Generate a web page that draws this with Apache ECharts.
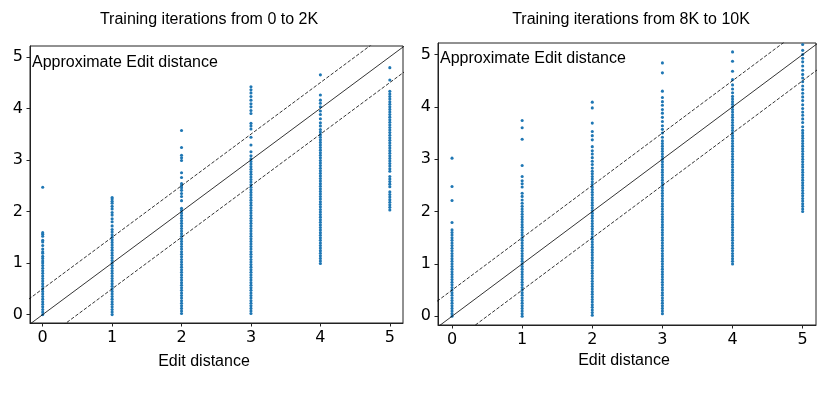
<!DOCTYPE html>
<html>
<head>
<meta charset="utf-8">
<script src="https://cdn.jsdelivr.net/npm/echarts@6/dist/echarts.min.js"></script>
<style>
	html, body { margin: 0; padding: 0; background: #fff; }
	#main { width: 830px; height: 401px; }
</style>
</head>
<body>
<div id="main"></div>
<script>
// x positions of the columns (edit distance)
var xTicks = [0, 1, 2, 3, 4, 5];
var yTicks = [0, 1, 2, 3, 4, 5];

// approximate edit distance values per column, iterations 0 to 2K
var left0 = [0.00,0.05,0.10,0.15,0.20,0.25,0.30,0.35,0.40,0.45,0.50,0.55,0.60,0.65,0.70,0.75,0.80,0.85,0.90,0.95,1.00,1.04,
	1.09,1.13,1.19,1.22,1.27,1.34,1.41,1.44,1.52,1.56,1.59,2.47];
var left1 = [0.00,0.05,0.10,0.15,0.20,0.25,0.30,0.35,0.40,0.45,0.50,0.55,0.60,0.65,0.70,0.75,0.80,0.85,0.90,0.95,
	1.00,1.05,1.10,1.15,1.20,1.25,1.30,1.35,1.40,1.45,1.50,1.55,1.60,
	1.65,1.72,1.80,1.86,1.93,1.98,2.05,2.10,2.16,2.20,2.24,2.27];
var left2 = [0.02,0.07,0.12,0.17,0.22,0.27,0.32,0.37,0.42,0.47,0.52,0.57,0.62,0.67,0.72,0.77,0.82,0.87,0.92,0.97,
	1.02,1.07,1.12,1.17,1.22,1.27,1.32,1.37,1.42,1.47,1.52,1.57,1.62,1.67,1.72,1.77,1.82,1.87,1.92,1.97,2.02,2.06,
	2.21,2.29,2.35,2.41,2.46,2.50,2.54,2.66,2.75,2.99,3.04,3.09,3.24,3.57];
var left3 = [0.02,0.07,0.12,0.17,0.22,0.27,0.32,0.37,0.42,0.47,0.52,0.57,0.62,0.67,0.72,0.77,0.82,0.87,0.92,0.97,
	1.02,1.07,1.12,1.17,1.22,1.27,1.32,1.37,1.42,1.47,1.52,1.57,1.62,1.67,1.72,1.77,1.82,1.87,1.92,1.97,
	2.02,2.07,2.12,2.17,2.22,2.27,2.32,2.37,2.42,2.47,2.52,2.57,2.62,2.67,2.72,2.77,2.82,2.87,2.92,2.97,3.02,
	3.08,3.16,3.29,3.44,3.60,3.66,3.71,3.90,3.96,4.03,4.09,4.16,4.23,4.30,4.36,4.42];
var left4 = [0.99,1.04,1.09,1.14,1.19,1.24,1.29,1.34,1.39,1.44,1.49,1.54,1.59,1.64,1.69,1.74,1.79,1.84,1.89,1.94,
	1.99,2.04,2.09,2.14,2.19,2.24,2.29,2.34,2.39,2.44,2.49,2.54,2.59,2.64,2.69,2.74,2.79,2.84,2.89,2.94,
	2.99,3.04,3.09,3.14,3.19,3.24,3.29,3.34,3.39,3.44,3.49,3.54,3.59,
	3.66,3.72,3.80,3.88,3.95,4.03,4.10,4.16,4.26,4.65];
var left5 = [2.03,2.08,2.13,2.18,2.23,2.28,2.33,2.38,2.48,2.53,2.58,2.63,2.68,2.78,2.83,2.88,2.93,2.98,
	3.03,3.08,3.13,3.18,3.23,3.28,3.33,3.38,3.43,3.48,3.53,3.58,3.63,3.68,3.73,3.78,3.83,3.88,3.93,3.98,
	4.03,4.08,4.13,4.18,4.23,4.28,4.33,4.55,4.79];

// approximate edit distance values per column, iterations 8K to 10K
var right0 = [0.00,0.05,0.10,0.15,0.20,0.25,0.30,0.35,0.40,0.45,0.50,0.55,0.60,0.65,0.70,0.75,0.80,0.85,0.90,0.95,
	1.00,1.05,1.10,1.15,1.20,1.25,1.30,
	1.35,1.40,1.45,1.50,1.55,1.60,1.65,1.79,2.21,2.48,3.02];
var right1 = [0.00,0.05,0.10,0.15,0.20,0.25,0.30,0.35,0.40,0.45,0.50,0.55,0.60,0.65,0.70,0.75,0.80,0.85,0.90,0.95,
	1.00,1.05,1.10,1.15,1.20,1.25,1.30,1.35,1.40,1.45,1.50,1.55,1.60,1.65,1.70,1.75,1.80,1.85,1.90,1.95,2.00,2.05,2.10,
	2.16,2.22,2.29,2.35,2.47,2.53,2.59,2.67,2.88,3.38,3.60,3.74];
var right2 = [0.02,0.07,0.12,0.17,0.22,0.27,0.32,0.37,0.42,0.47,0.52,0.57,0.62,0.67,0.72,0.77,0.82,0.87,0.92,0.97,
	1.02,1.07,1.12,1.17,1.22,1.27,1.32,1.37,1.42,1.47,1.52,1.57,1.62,1.67,1.72,1.77,1.82,1.87,1.92,1.97,
	2.02,2.07,2.12,2.17,2.22,2.27,2.32,2.37,2.42,2.47,2.52,2.57,2.62,2.67,2.72,2.77,
	2.83,2.90,2.96,3.03,3.10,3.16,3.24,3.37,3.45,3.53,3.69,3.98,4.09];
var right3 = [0.05,0.10,0.15,0.20,0.25,0.30,0.35,0.40,0.45,0.50,0.55,0.60,0.65,0.70,0.75,0.80,0.85,0.90,0.95,
	1.00,1.05,1.10,1.15,1.20,1.25,1.30,1.35,1.40,1.45,1.50,1.55,1.60,1.65,1.70,1.75,1.80,1.85,1.90,1.95,
	2.00,2.05,2.10,2.15,2.20,2.25,2.30,2.35,2.40,2.45,2.50,2.55,2.60,2.65,2.70,2.75,2.80,2.85,2.90,2.95,
	3.00,3.05,3.10,3.15,3.20,3.25,3.30,3.35,
	3.42,3.50,3.57,3.64,3.72,3.80,3.88,3.95,4.03,4.10,4.18,4.30,4.65,4.84];
var right4 = [1.00,1.05,1.10,1.15,1.20,1.25,1.30,1.35,1.40,1.45,1.50,1.55,1.60,1.65,1.70,1.75,1.80,1.85,1.90,1.95,
	2.00,2.05,2.10,2.15,2.20,2.25,2.30,2.35,2.40,2.45,2.50,2.55,2.60,2.65,2.70,2.75,2.80,2.85,2.90,2.95,
	3.00,3.05,3.10,3.15,3.20,3.25,3.30,3.35,3.40,3.45,3.50,3.55,3.60,3.65,3.70,3.75,3.80,3.85,3.90,3.95,
	4.00,4.05,4.10,4.15,4.20,
	4.27,4.34,4.42,4.52,4.68,4.87,5.05];
var right5 = [2.00,2.05,2.10,2.15,2.20,2.25,2.30,2.35,2.40,2.45,2.50,2.55,2.60,2.65,2.70,2.75,2.80,2.85,2.90,2.95,
	3.00,3.05,3.10,3.15,3.20,3.25,3.30,3.35,3.40,3.45,3.50,3.55,
	3.62,3.70,3.77,3.84,3.90,3.97,4.04,4.12,4.19,4.26,4.33,4.40,4.48,4.55,4.62,4.70,4.78,4.86,4.93,5.00,5.08,5.19];

var leftCols = [left0, left1, left2, left3, left4, left5];
var rightCols = [right0, right1, right2, right3, right4, right5];

// reference lines y = x and y = x +/- 0.5
var refX = [-1, 6];
var refMid = [-1, 6];
var refUp = [-0.5, 6.5];
var refLow = [-1.5, 5.5];

var blue = '#1f77b4';

function pts(cols) {
	let out = [];
	for (let i = 0; i < cols.length; i++) {
		for (let j = 0; j < cols[i].length; j++) {
			out.push([xTicks[i], cols[i][j]]);
		}
	}
	return out;
}

function pair(xs, ys) {
	return xs.map(function(v, k) { return [v, ys[k]]; });
}

function xAx(idx, mn, mx) {
	return {
		gridIndex: idx, type: 'value', min: mn, max: mx,
		axisLine: { show: true, onZero: false, lineStyle: { color: '#222', width: 1 } },
		axisTick: { show: true, inside: false, length: 3.5, customValues: xTicks, lineStyle: { color: '#222' } },
		axisLabel: { customValues: xTicks, fontFamily: 'DejaVu Sans', fontSize: 16, color: '#000', margin: 7 },
		splitLine: { show: false }
	};
}

function yAx(idx, mn, mx) {
	return {
		gridIndex: idx, type: 'value', min: mn, max: mx,
		axisLine: { show: true, onZero: false, lineStyle: { color: '#222', width: 1 } },
		axisTick: { show: true, inside: false, length: 3.5, customValues: yTicks, lineStyle: { color: '#222' } },
		axisLabel: { customValues: yTicks, fontFamily: 'DejaVu Sans', fontSize: 16, color: '#000', margin: 7 },
		splitLine: { show: false }
	};
}

function refSeries(idx, ys, dashed) {
	return {
		type: 'line', xAxisIndex: idx, yAxisIndex: idx,
		data: pair(refX, ys), symbol: 'none', silent: true, clip: true,
		lineStyle: { color: '#000', width: 0.8, type: dashed ? [3.5, 1.8] : 'solid' },
		z: 3
	};
}

function dotSeries(idx, cols) {
	return {
		type: 'scatter', xAxisIndex: idx, yAxisIndex: idx,
		data: pts(cols), symbol: 'circle', symbolSize: 3.1,
		itemStyle: { color: blue, opacity: 1 },
		z: 2
	};
}

function txt(x, y, s, size, align) {
	return {
		type: 'text', x: x, y: y,
		style: { text: s, fill: '#000', font: size + 'px "Liberation Sans", Arial, sans-serif', align: align, verticalAlign: 'middle' },
		z: 10
	};
}

let chartDom = document.getElementById('main');
let myChart = echarts.init(chartDom, null, { renderer: 'canvas' });
let option = {
	animation: false,
	backgroundColor: '#fff',
	grid: [
		{ left: 30, top: 46, width: 373, height: 277, show: true, borderColor: '#222', borderWidth: 1, backgroundColor: 'transparent' },
		{ left: 438, top: 43, width: 378, height: 282, show: true, borderColor: '#222', borderWidth: 1, backgroundColor: 'transparent' }
	],
	xAxis: [xAx(0, -0.183, 5.19), xAx(1, -0.2, 5.19)],
	yAxis: [yAx(0, -0.163, 5.21), yAx(1, -0.167, 5.22)],
	series: [
		dotSeries(0, leftCols),
		refSeries(0, refMid, false),
		refSeries(0, refUp, true),
		refSeries(0, refLow, true),
		dotSeries(1, rightCols),
		refSeries(1, refMid, false),
		refSeries(1, refUp, true),
		refSeries(1, refLow, true)
	],
	graphic: [
		txt(209, 20, 'Training iterations from 0 to 2K', 16, 'center'),
		txt(631, 20, 'Training iterations from 8K to 10K', 16, 'center'),
		txt(32, 63, 'Approximate Edit distance', 16, 'left'),
		txt(440, 59, 'Approximate Edit distance', 16, 'left'),
		txt(204, 362, 'Edit distance', 16, 'center'),
		txt(624, 361, 'Edit distance', 16, 'center')
	]
};
option && myChart.setOption(option);
</script>
</body>
</html>
